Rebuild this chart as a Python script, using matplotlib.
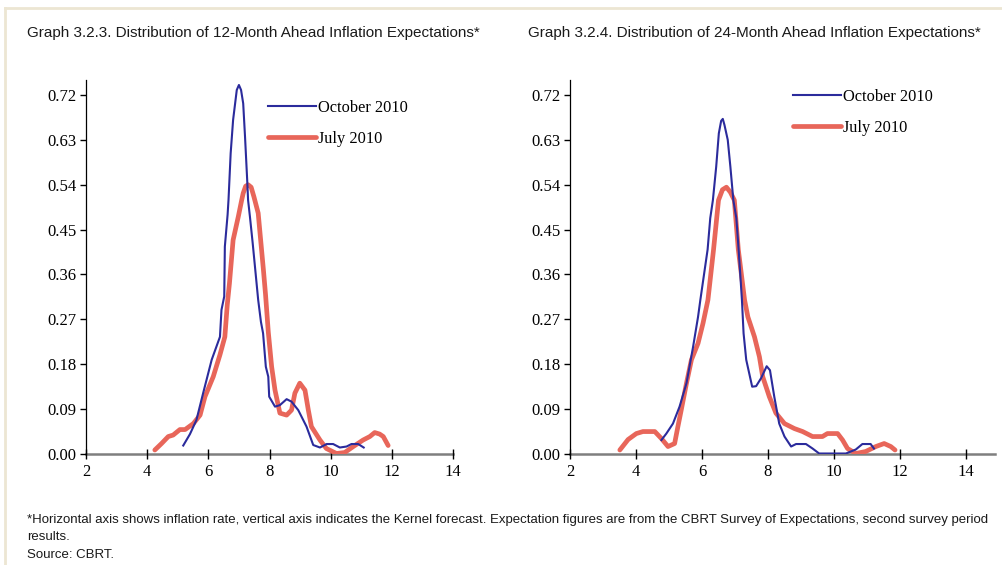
import matplotlib
matplotlib.use("Agg")
import matplotlib.pyplot as plt
from matplotlib.lines import Line2D
from matplotlib import font_manager

# ---- data: kernel density of inflation expectations ----
infl_12m_oct = [5.18, 5.40, 5.61, 5.83, 6.11, 6.38, 6.43, 6.52, 6.54, 6.63, 6.66, 6.73, 6.81, 6.93,
                7.00, 7.07, 7.14, 7.20, 7.27, 7.30, 7.36, 7.45, 7.63, 7.72, 7.79, 7.88, 7.96, 7.99,
                8.18, 8.34, 8.56, 8.72, 8.94, 9.21, 9.43, 9.65, 9.87, 10.08, 10.30, 10.52, 10.68,
                10.90, 11.08]
dens_12m_oct = [0.017, 0.040, 0.068, 0.122, 0.189, 0.235, 0.289, 0.316, 0.416, 0.480, 0.510, 0.603,
                0.670, 0.730, 0.740, 0.730, 0.703, 0.636, 0.550, 0.509, 0.476, 0.423, 0.309, 0.265,
                0.242, 0.175, 0.155, 0.115, 0.095, 0.098, 0.110, 0.105, 0.088, 0.055, 0.018, 0.013,
                0.020, 0.020, 0.013, 0.015, 0.020, 0.020, 0.013]

infl_12m_jul = [4.25, 4.47, 4.69, 4.85, 5.07, 5.24, 5.51, 5.73, 5.89, 6.16, 6.38, 6.54, 6.62, 6.69,
                6.81, 6.98, 7.09, 7.14, 7.22, 7.30, 7.40, 7.49, 7.52, 7.63, 7.69, 7.80, 7.87, 7.96,
                8.07, 8.18, 8.34, 8.56, 8.72, 8.83, 8.99, 9.16, 9.27, 9.37, 9.65, 9.86, 10.19,
                10.46, 10.74, 11.06, 11.28, 11.44, 11.60, 11.72, 11.88]
dens_12m_jul = [0.008, 0.021, 0.035, 0.038, 0.049, 0.049, 0.061, 0.078, 0.115, 0.155, 0.199, 0.235,
                0.300, 0.342, 0.429, 0.476, 0.509, 0.523, 0.537, 0.540, 0.535, 0.516, 0.509, 0.483,
                0.443, 0.370, 0.320, 0.245, 0.175, 0.128, 0.082, 0.078, 0.088, 0.122, 0.142, 0.128,
                0.088, 0.055, 0.028, 0.011, 0.001, 0.003, 0.015, 0.028, 0.035, 0.043, 0.040, 0.035,
                0.017]

infl_24m_oct = [4.77, 4.92, 5.12, 5.32, 5.53, 5.73, 5.88, 5.95, 6.17, 6.25, 6.33, 6.43, 6.51, 6.58,
                6.63, 6.68, 6.78, 6.86, 6.95, 7.04, 7.11, 7.21, 7.26, 7.34, 7.52, 7.64, 7.79, 7.96,
                8.06, 8.19, 8.34, 8.50, 8.70, 8.85, 9.15, 9.35, 9.55, 10.36, 10.66, 10.86, 11.11,
                11.21]
dens_24m_oct = [0.028, 0.041, 0.061, 0.095, 0.142, 0.215, 0.275, 0.309, 0.410, 0.473, 0.509, 0.576,
                0.643, 0.668, 0.672, 0.660, 0.630, 0.576, 0.509, 0.473, 0.410, 0.309, 0.242, 0.189,
                0.135, 0.136, 0.152, 0.176, 0.168, 0.115, 0.061, 0.035, 0.015, 0.020, 0.020, 0.011,
                0.001, 0.001, 0.009, 0.020, 0.020, 0.011]

infl_24m_jul = [3.51, 3.76, 4.01, 4.21, 4.57, 4.77, 4.97, 5.17, 5.27, 5.37, 5.53, 5.68, 5.88, 6.03,
                6.18, 6.35, 6.50, 6.62, 6.74, 6.86, 6.98, 7.10, 7.29, 7.39, 7.59, 7.74, 7.84, 8.04,
                8.24, 8.50, 8.80, 9.05, 9.35, 9.65, 9.80, 10.11, 10.26, 10.41, 10.66, 10.96, 11.27,
                11.52, 11.72, 11.85]
dens_24m_jul = [0.008, 0.029, 0.041, 0.045, 0.045, 0.031, 0.015, 0.021, 0.055, 0.088, 0.142, 0.189,
                0.222, 0.262, 0.309, 0.410, 0.509, 0.530, 0.535, 0.525, 0.509, 0.410, 0.309, 0.275,
                0.235, 0.195, 0.155, 0.115, 0.082, 0.061, 0.051, 0.045, 0.035, 0.035, 0.041, 0.041,
                0.028, 0.011, 0.001, 0.005, 0.015, 0.021, 0.015, 0.008]

x_ticks = [2, 4, 6, 8, 10, 12, 14]
y_ticks = [0.00, 0.09, 0.18, 0.27, 0.36, 0.45, 0.54, 0.63, 0.72]
series_labels = ["October 2010", "July 2010"]
titles = ["Graph 3.2.3. Distribution of 12-Month Ahead Inflation Expectations*",
          "Graph 3.2.4. Distribution of 24-Month Ahead Inflation Expectations*"]
footnote_lines = [
    "*Horizontal axis shows inflation rate, vertical axis indicates the Kernel forecast. "
    "Expectation figures are from the CBRT Survey of Expectations, second survey period",
    "results.",
    "Source: CBRT.",
]

# ---- styling ----
BLUE = "#2b2b9c"
RED = "#e8665a"
FRAME = "#ece6d3"
available = {f.name for f in font_manager.fontManager.ttflist}
NARROW = ["Liberation Sans Narrow", "Liberation Sans"] if "Liberation Sans Narrow" in available \
    else ["Liberation Sans"]
SERIF = ["Liberation Serif", "DejaVu Serif"]

fig = plt.figure(figsize=(10.02, 5.65), dpi=100)
W, H = 1002, 565


def axes_rect(x0, x1, ytop, ybot):
    return [x0 / W, (H - ybot) / H, (x1 - x0) / W, (ybot - ytop) / H]


# left panel: axis spans 2..14; right panel: axis line runs on past 14
panels = [
    dict(rect=axes_rect(86, 453, 80, 454), xmax=14.0, title_x=27,
         oct=(infl_12m_oct, dens_12m_oct), jul=(infl_12m_jul, dens_12m_jul),
         leg_anchor=(0.496, 0.947)),
    dict(rect=axes_rect(570, 995, 80, 454), xmax=14.0 + 29 / 33.0, title_x=528,
         oct=(infl_24m_oct, dens_24m_oct), jul=(infl_24m_jul, dens_24m_jul),
         leg_anchor=(0.525, 0.976)),
]

for p, title in zip(panels, titles):
    ax = fig.add_axes(p["rect"])
    ax.plot(*p["oct"], color=BLUE, lw=1.5, label=series_labels[0], zorder=3)
    ax.plot(*p["jul"], color=RED, lw=3.4, solid_joinstyle="round",
            solid_capstyle="round", label=series_labels[1], zorder=2)
    ax.set_xlim(2, p["xmax"])
    ax.set_ylim(0, 0.75)
    ax.set_xticks(x_ticks)
    ax.set_xticklabels([str(t) for t in x_ticks])
    ax.set_yticks(y_ticks)
    ax.set_yticklabels([f"{t:.2f}" for t in y_ticks])
    for lab in ax.get_xticklabels() + ax.get_yticklabels():
        lab.set_fontfamily(SERIF)
        lab.set_fontsize(12)
    ax.tick_params(axis="x", direction="inout", length=7, width=1, color="black", pad=4)
    ax.tick_params(axis="y", direction="out", length=4, width=1, color="black", pad=3)
    for s in ("top", "right"):
        ax.spines[s].set_visible(False)
    ax.spines["bottom"].set_color("#7f7f7f")
    ax.spines["bottom"].set_linewidth(1.8)
    ax.spines["left"].set_color("black")
    ax.spines["left"].set_linewidth(0.9)
    ax.spines["bottom"].set_zorder(1)

    ax.legend(loc="upper left", bbox_to_anchor=p["leg_anchor"], frameon=False,
              handlelength=2.9, handletextpad=0.15, labelspacing=0.92,
              borderpad=0, borderaxespad=0,
              prop=font_manager.FontProperties(family=SERIF, size=11.8))
    fig.text(p["title_x"] / W, 1 - 33 / H, title, ha="left", va="center",
             fontsize=11, family=NARROW, color="#1a1a1a")

for i, line in enumerate(footnote_lines):
    fig.text(27 / W, 1 - (520 + 17.5 * i) / H, line, ha="left", va="center",
             fontsize=9.5, family=NARROW, color="#1a1a1a")

# page frame along the top and left edges
fig.add_artist(Line2D([5 / W, 1.0], [1 - 8 / H, 1 - 8 / H], transform=fig.transFigure,
                      color=FRAME, lw=2))
fig.add_artist(Line2D([5 / W, 5 / W], [0, 1 - 8 / H], transform=fig.transFigure,
                      color=FRAME, lw=2))

fig.savefig("out.png", dpi=100)
